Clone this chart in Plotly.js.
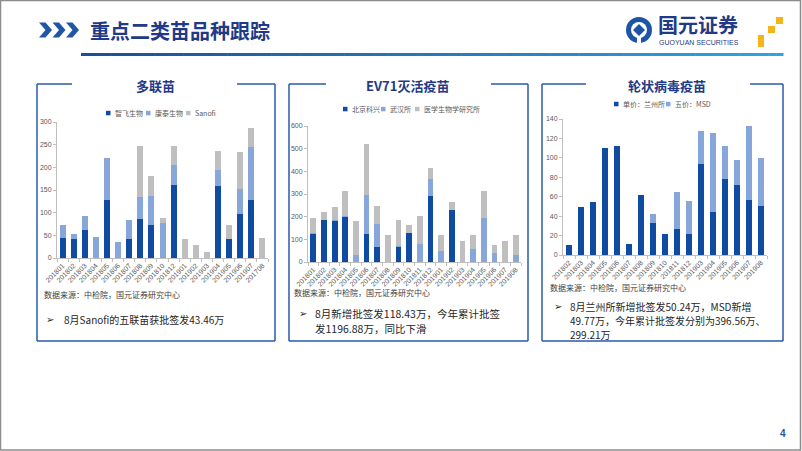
<!DOCTYPE html>
<html><head><meta charset="utf-8">
<script src="https://cdn.plot.ly/plotly-3.0.1.min.js"></script>
<style>html,body{margin:0;padding:0;background:#fff;}#chart{width:802px;height:451px;}</style>
</head><body><div id="chart"></div>
<script>
// ---- 多联苗 ----
const dlmCategories = ['201801','201802','201803','201804','201805','201806','201807','201808','201809','201810','201812','201901','201902','201903','201904','201905','201906','201907','201708'];
const dlmZhifei  = [45,43,62,0,127,0,42,85,72,0,162,0,0,0,159,41,97,128,0];
const dlmKangtai = [28,11,30,46,94,35,42,50,65,77,43,0,0,0,36,0,55,117,0];
const dlmSanofi  = [0,0,0,0,0,0,0,112,43,12,42,42,29,14,41,31,82,41,43.46];
// ---- EV71灭活疫苗 ----
const ev71Categories = ['201801','201802','201803','201804','201805','201806','201807','201808','201809','201810','201811','201812','201901','201902','201903','201904','201905','201906','201907','201908'];
const ev71Kexing = [123,185,183,197,0,122,67,0,65,128,0,290,0,228,0,0,0,0,0,0];
const ev71Wuhan  = [4,2,2,5,30,173,100,0,5,0,80,75,47,0,0,58,192,38,0,32];
const ev71Yixue  = [69,33,57,113,153,227,81,118,115,37,122,50,74,37,92,60,123,37,93,86];
// ---- 轮状病毒疫苗 ----
const rvCategories = ['201802','201803','201804','201805','201806','201807','201808','201809','201810','201811','201812','201903','201904','201905','201906','201907','201908'];
const rvLanzhou = [10,49,55,110,112,11,62,33,22,27,22,94,44,78,72,57,50.24];
const rvMSD     = [0,0,0,0,0,0,0,9,0,38,34,34,82,34,26,76,49.77];

const W = 802, H = 451;
const px = x => x / W;
const py = y => 1 - y / H;
const P = (x, y) => px(x) + ',' + py(y);

const DARK = '#0F4BA0', LIGHT = '#87A6DA', GRAY = '#BFBFBF';
const NAVY = '#1F3A86', BORDER = '#2A5AA8';
const CJK = "'Noto Sans CJK SC', sans-serif";
const LAT = "'Liberation Sans', Arial, sans-serif";

function bar(x, y, name, color, xa, ya) {
  return {type: 'bar', x: x, y: y, name: name, marker: {color: color}, xaxis: xa, yaxis: ya, showlegend: false, hoverinfo: 'skip'};
}

const data = [
  bar(dlmCategories, dlmZhifei, '智飞生物', DARK, 'x', 'y'),
  bar(dlmCategories, dlmKangtai, '康泰生物', LIGHT, 'x', 'y'),
  bar(dlmCategories, dlmSanofi, 'Sanofi', GRAY, 'x', 'y'),
  bar(ev71Categories, ev71Kexing, '北京科兴', DARK, 'x2', 'y2'),
  bar(ev71Categories, ev71Wuhan, '武汉所', LIGHT, 'x2', 'y2'),
  bar(ev71Categories, ev71Yixue, '医学生物学研究所', GRAY, 'x2', 'y2'),
  bar(rvCategories, rvLanzhou, '单价：兰州所', DARK, 'x3', 'y3'),
  bar(rvCategories, rvMSD, '五价：MSD', LIGHT, 'x3', 'y3')
];

function xAxis(a, b, anchor) {
  return {domain: [px(a), px(b)], anchor: anchor, type: 'category', tickangle: -45,
    tickfont: {size: 7, color: '#595959', family: LAT}, showline: true, linecolor: '#BFBFBF', linewidth: 1,
    ticks: 'outside', ticklen: 3, tickcolor: '#BFBFBF', tickson: 'boundaries', showgrid: false, zeroline: false, fixedrange: true};
}
function yAxis(top, bottom, max, dt, anchor) {
  return {domain: [py(bottom), py(top)], anchor: anchor, range: [0, max], dtick: dt,
    tickfont: {size: 7, color: '#595959', family: LAT}, showline: true, linecolor: '#BFBFBF', linewidth: 1,
    ticks: 'outside', ticklen: 3, tickcolor: '#BFBFBF', showgrid: false, zeroline: false, fixedrange: true};
}

const shapes = [];
const annotations = [];

// outer frame
shapes.push({type: 'rect', xref: 'paper', yref: 'paper', x0: px(0.5), x1: px(800.5), y0: py(450), y1: py(0.5), line: {color: '#8C8C8C', width: 1.5}});

// chevrons
for (let i = 0; i < 3; i++) {
  const x0 = 39 + i * 13.5;
  shapes.push({type: 'path', xref: 'paper', yref: 'paper',
    path: 'M' + P(x0, 22.5) + ' L' + P(x0 + 6.5, 22.5) + ' L' + P(x0 + 13, 30) + ' L' + P(x0 + 6.5, 37.5) + ' L' + P(x0, 37.5) + ' L' + P(x0 + 6.5, 30) + ' Z',
    fillcolor: '#1F56A8', line: {width: 0}});
}
// gradient rule
const N = 48, gx0 = 81, gx1 = 783;
const c0 = [27, 78, 155], c1 = [47, 163, 223];
for (let i = 0; i < N; i++) {
  const t = i / (N - 1);
  const c = c0.map((v, k) => Math.round(v + (c1[k] - v) * t));
  const xa = gx0 + (gx1 - gx0) * i / N, xb = gx0 + (gx1 - gx0) * (i + 1) / N + 0.5;
  shapes.push({type: 'rect', xref: 'paper', yref: 'paper', x0: px(xa), x1: px(xb), y0: py(56), y1: py(53),
    fillcolor: 'rgb(' + c.join(',') + ')', line: {width: 0}});
}
// logo
shapes.push({type: 'circle', xref: 'paper', yref: 'paper', x0: px(626), x1: px(652), y0: py(43), y1: py(17), fillcolor: '#1D55A4', line: {width: 0}});
shapes.push({type: 'circle', xref: 'paper', yref: 'paper', x0: px(631), x1: px(647), y0: py(38), y1: py(22), fillcolor: '#FFFFFF', line: {width: 0}});
shapes.push({type: 'path', xref: 'paper', yref: 'paper', path: 'M' + P(639, 24) + ' L' + P(645, 30) + ' L' + P(639, 36) + ' L' + P(633, 30) + ' Z', fillcolor: '#1D55A4', line: {width: 0}});
shapes.push({type: 'rect', xref: 'paper', yref: 'paper', x0: px(637), x1: px(641), y0: py(43), y1: py(36), fillcolor: '#FFFFFF', line: {width: 0}});
[[776, 17, 783, 24], [768, 26, 775, 33], [758, 35, 764, 47]].forEach(r => {
  shapes.push({type: 'rect', xref: 'paper', yref: 'paper', x0: px(r[0]), x1: px(r[2]), y0: py(r[3]), y1: py(r[1]), fillcolor: '#F4B41A', line: {width: 0}});
});

// panel boxes
function panel(l, r, top, bottom, gapL, gapR) {
  const ln = {color: BORDER, width: 1.5};
  const segs = [[l, top, gapL, top], [gapR, top, r, top], [l, top, l, bottom], [r, top, r, bottom], [l, bottom, r, bottom]];
  segs.forEach(s => shapes.push({type: 'line', xref: 'paper', yref: 'paper', x0: px(s[0]), y0: py(s[1]), x1: px(s[2]), y1: py(s[3]), line: ln}));
}
panel(37, 275, 84, 341, 72, 237);
panel(289, 528, 84, 341, 326, 491);
panel(542, 783, 84, 341, 586, 750);

function txt(x, y, text, size, color, family, xanchor, extra) {
  annotations.push(Object.assign({xref: 'paper', yref: 'paper', x: px(x), y: py(y), text: text, showarrow: false,
    xanchor: xanchor || 'left', yanchor: 'middle', font: {size: size, color: color, family: family}}, extra || {}));
}

// titles
txt(88, 30, '<b>重点二类苗品种跟踪</b>', 20, NAVY, CJK);
txt(656, 25, '<b>国元证券</b>', 20, NAVY, CJK);
txt(657, 42, 'GUOYUAN SECURITIES', 7, NAVY, LAT);
txt(155, 85, '<b>多联苗</b>', 13, NAVY, CJK, 'center');
txt(408, 85, '<b>EV71灭活疫苗</b>', 13, NAVY, CJK, 'center');
txt(667, 85, '<b>轮状病毒疫苗</b>', 13, NAVY, CJK, 'center');

// legends
function legend(items, y) {
  items.forEach(it => {
    shapes.push({type: 'rect', xref: 'paper', yref: 'paper', x0: px(it[0]), x1: px(it[0] + 4.5), y0: py(y + 2.3), y1: py(y - 2.2), fillcolor: it[1], line: {width: 0}});
    txt(it[0] + 6.5, y, it[2], 7, '#595959', CJK);
  });
}
legend([[106, DARK, '智飞生物'], [146, LIGHT, '康泰生物'], [186, GRAY, 'Sanofi']], 113);
legend([[343, DARK, '北京科兴'], [381, LIGHT, '武汉所'], [415, GRAY, '医学生物学研究所']], 109);
legend([[614, DARK, '单价：兰州所'], [666, LIGHT, '五价：MSD']], 104);

// sources
txt(42, 294, '数据来源：中检院，国元证券研究中心', 8, '#404040', CJK);
txt(292, 292, '数据来源：中检院，国元证券研究中心', 8, '#404040', CJK);
txt(548, 287, '数据来源：中检院，国元证券研究中心', 8, '#404040', CJK);

// bullets
const BUL = '#262626';
txt(44, 319, '➢', 10, BUL, "'DejaVu Sans', sans-serif");
txt(62, 319, '8月Sanofi的五联苗获批签发43.46万', 10, BUL, CJK);
txt(297, 313, '➢', 10, BUL, "'DejaVu Sans', sans-serif");
txt(313, 313, '8月新增批签发118.43万，今年累计批签', 10.5, BUL, CJK);
txt(313, 328, '发1196.88万，同比下滑', 10.5, BUL, CJK);
txt(552, 306, '➢', 10, BUL, "'DejaVu Sans', sans-serif");
txt(568, 306, '8月兰州所新增批签发50.24万，MSD新增', 10, BUL, CJK);
txt(568, 320, '49.77万，今年累计批签发分别为396.56万、', 10, BUL, CJK);
txt(568, 334, '299.21万', 10, BUL, CJK);

// page number
txt(783, 433, '<b>4</b>', 10, '#1F56A8', LAT, 'center');

const layout = {
  width: W, height: H, margin: {l: 0, r: 0, t: 0, b: 0},
  paper_bgcolor: '#FFFFFF', plot_bgcolor: '#FFFFFF',
  barmode: 'stack', bargap: 0.46, showlegend: false,
  xaxis: xAxis(57, 268, 'y'), yaxis: yAxis(122, 258, 300, 50, 'x'),
  xaxis2: xAxis(308, 521, 'y2'), yaxis2: yAxis(126, 262, 600, 100, 'x2'),
  xaxis3: xAxis(563, 767, 'y3'), yaxis3: yAxis(119, 255, 140, 20, 'x3'),
  shapes: shapes, annotations: annotations,
  font: {family: CJK}
};

Plotly.newPlot('chart', data, layout, {displayModeBar: false, staticPlot: true});
</script>
</body></html>
